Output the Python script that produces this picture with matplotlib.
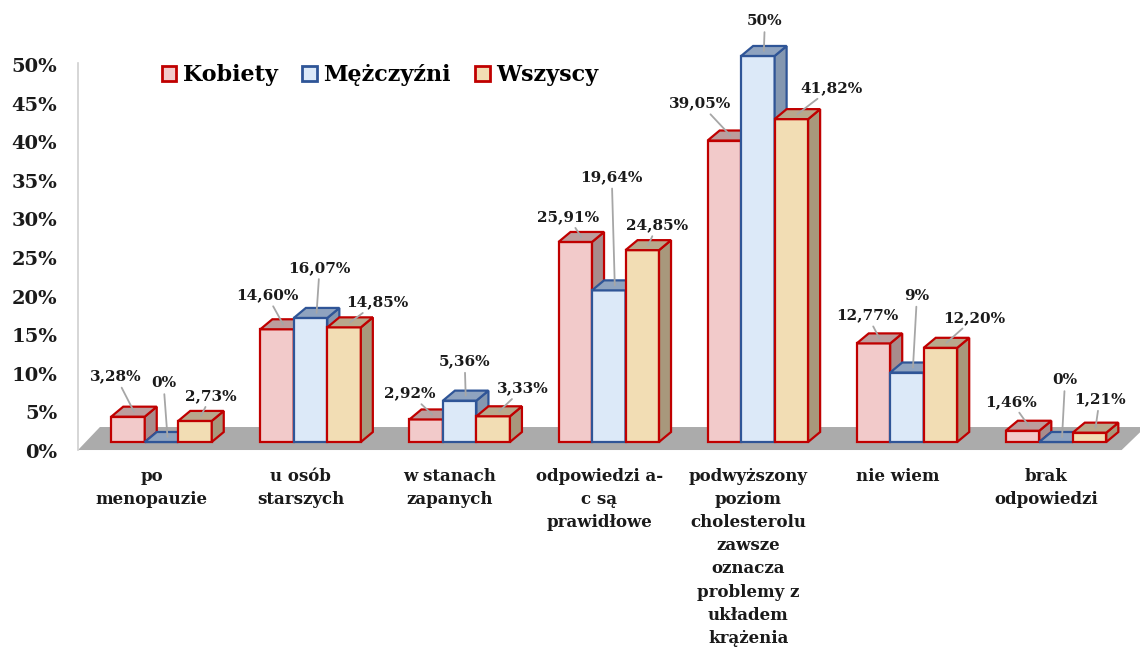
import numpy as np
import matplotlib
matplotlib.use("Agg")
import matplotlib.pyplot as plt
from matplotlib.patches import Polygon, Rectangle, Patch
from matplotlib.transforms import ScaledTranslation

plt.rcParams.update({"font.family": "DejaVu Serif", "font.weight": "bold"})

categories = ["po\nmenopauzie", "u osób\nstarszych", "w stanach\nzapanych",
              "odpowiedzi a-\nc są\nprawidłowe",
              "podwyższony\npoziom\ncholesterolu\nzawsze\noznacza\nproblemy z\nukładem\nkrążenia",
              "nie wiem", "brak\nodpowiedzi"]
series = ["Kobiety", "Mężczyźni", "Wszyscy"]
kobiety = [3.28, 14.60, 2.92, 25.91, 39.05, 12.77, 1.46]
mezczyzni = [0, 16.07, 5.36, 19.64, 50, 9, 0]
wszyscy = [2.73, 14.85, 3.33, 24.85, 41.82, 12.20, 1.21]
values = [kobiety, mezczyzni, wszyscy]

# styles: front, top, side, edge
STY = [("#f2caca", "#bc9d9d", "#a88c8c", "#c00000"),
       ("#dce9f8", "#8fa3bf", "#8497b0", "#2f5597"),
       ("#f2ddb4", "#b8a88c", "#a8987c", "#c00000")]
GREY = "#a6a6a6"

# label offsets (pixels, up = positive) from each bar's top-face centre
OFFS = [[(-18, 35), (-16, 29), (-22, 21), (-13, 20), (-30, 32), (-12, 23), (-17, 24)],
        [(-4, 54), (3, 45), (-1, 34), (-3, 108), (1, 30), (4, 72), (3, 57)],
        [(10, 20), (27, 20), (24, 23), (9, 20), (34, 26), (28, 25), (4, 28)]]

W = 0.2247          # bar width (category units)
DX, DY = 0.0805, 1.295  # 3d depth offset

fig = plt.figure(figsize=(11.4, 6.61), dpi=100)
ax = fig.add_axes([78/1140, 191/661, 1062/1140, 470/661])
ax.set_xlim(-0.560, 6.563); ax.set_ylim(-3.627, 57.25)
for sp in ax.spines.values(): sp.set_visible(False)
ax.set_xticks([])

# floor + left wall line
ax.add_patch(Polygon([(-0.560, -1.04), (6.44, -1.04), (6.60, 1.94), (-0.413, 1.94)],
                     closed=True, facecolor="#ababab", edgecolor="none", zorder=1))
ax.plot([-0.557, -0.557], [-1.04, 49.1], color="#d0d0d0", lw=1.2, zorder=1, clip_on=False)

z = 2
for i in range(len(categories)):
    for s in range(3):
        v = values[s][i]
        fc, tc, sc, ec = STY[s]
        x0 = i + (s - 1) * W - W / 2
        x1 = x0 + W
        ax.add_patch(Rectangle((x0, 0), W, v, facecolor=fc, edgecolor=ec, lw=1.6, zorder=z))
        ax.add_patch(Polygon([(x1, 0), (x1 + DX, DY), (x1 + DX, v + DY), (x1, v)],
                             closed=True, facecolor=sc, edgecolor=ec, lw=1.6, zorder=z))
        ax.add_patch(Polygon([(x0, v), (x1, v), (x1 + DX, v + DY), (x0 + DX, v + DY)],
                             closed=True, facecolor=tc, edgecolor=ec, lw=1.6, zorder=z))
        z += 1
        lab = f"{v:g}%" if float(v).is_integer() else f"{v:.2f}%".replace(".", ",")
        ax.annotate(lab, xy=(i + (s - 1) * W + DX / 2, v + DY / 2), xytext=OFFS[s][i],
                    textcoords="offset pixels", ha="center", va="center", fontsize=11,
                    color="#1a1a1a", zorder=50,
                    arrowprops=dict(arrowstyle="-", color=GREY, lw=1.3, shrinkA=1, shrinkB=0))

for i, c in enumerate(categories):
    ax.text(i - 0.065, -3.37, c, ha="center", va="top", fontsize=12, linespacing=1.47,
            color="#1a1a1a", clip_on=False)

ax.set_yticks(range(0, 51, 5))
ax.set_yticklabels([f"{t}%" for t in range(0, 51, 5)], fontsize=14, color="#1a1a1a")
ax.tick_params(axis="y", length=0, pad=15)
off = ScaledTranslation(0, -9/100, fig.dpi_scale_trans)
for t in ax.get_yticklabels(): t.set_transform(t.get_transform() + off)

handles = [Patch(facecolor=STY[k][0], edgecolor=STY[k][3], lw=2, label=series[k]) for k in range(3)]
fig.legend(handles=handles, loc="center left", bbox_to_anchor=(162/1140, 1 - 75/661), ncol=3,
           frameon=False, fontsize=16, handlelength=0.65, handleheight=0.65, handletextpad=0.3,
           columnspacing=1.1, borderpad=0, borderaxespad=0)

fig.savefig("out.png", dpi=100)
